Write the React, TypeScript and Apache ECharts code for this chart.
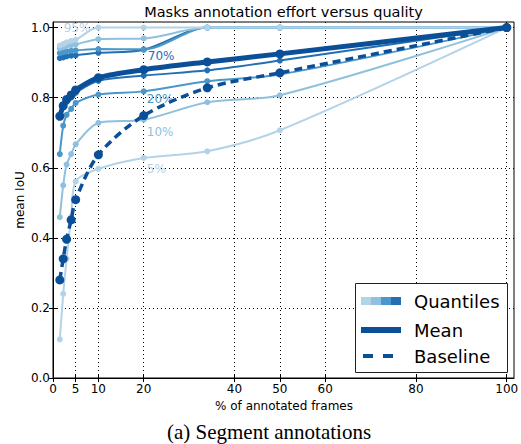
import React, { useEffect, useRef } from "react";
import * as echarts from "echarts";

// % of annotated frames at which each curve was measured
const FRACTIONS = [1.5, 2.25, 3, 4, 5, 10, 20, 34, 50, 100];

// quantile curves (mean IoU)
const Q05 = [0.11, 0.24, 0.34, 0.46, 0.561, 0.597, 0.628, 0.647, 0.707, 1.0];
const Q10 = [0.459, 0.55, 0.609, 0.639, 0.667, 0.728, 0.737, 0.787, 0.807, 1.0];
const Q20 = [0.639, 0.72, 0.751, 0.768, 0.785, 0.809, 0.818, 0.847, 0.866, 1.0];
const Q30 = [0.745, 0.772, 0.788, 0.8, 0.814, 0.848, 0.863, 0.878, 0.906, 1.0];
const Q70 = [0.913, 0.915, 0.918, 0.92, 0.921, 0.928, 0.937, 1.0, 1.0, 1.0];
const Q80 = [0.927, 0.93, 0.932, 0.934, 0.935, 0.939, 0.938, 1.0, 1.0, 1.0];
const Q90 = [0.941, 0.944, 0.947, 0.95, 0.952, 0.967, 0.969, 1.0, 1.0, 1.0];
const Q95 = [0.949, 0.953, 0.958, 0.962, 0.965, 1.0, 1.0, 1.0, 1.0, 1.0];

const MEAN = [0.747, 0.777, 0.795, 0.808, 0.822, 0.857, 0.88, 0.902, 0.925, 1.0];
const BASELINE = [0.28, 0.34, 0.396, 0.451, 0.509, 0.637, 0.749, 0.828, 0.871, 1.0];

const X_TICKS = [0, 5, 10, 20, 40, 50, 60, 80, 100];
const Y_TICKS = [0, 0.2, 0.4, 0.6, 0.8, 1.0];

const TITLE = "Masks annotation effort versus quality";
const X_NAME = "% of annotated frames";
const Y_NAME = "mean IoU";
const CAPTION = "(a) Segment annotations";
const LEGEND_NAMES = ["Quantiles", "Mean", "Baseline"];

const C1 = "#b3d3e9";
const C2 = "#8fc1de";
const C3 = "#4b97c9";
const C4 = "#2270b4";
const CMEAN = "#0b4f98";

const FONT = "DejaVu Sans";

const QUANTILES = [
  { name: "5%", data: Q05, color: C1, label: true, idx: 6, dx: 3, dy: 11 },
  { name: "10%", data: Q10, color: C2, label: true, idx: 6, dx: 3, dy: 12 },
  { name: "20%", data: Q20, color: C3, label: true, idx: 6, dx: 3, dy: 8 },
  { name: "30%", data: Q30, color: C4, label: false, idx: 6, dx: 0, dy: 0 },
  { name: "70%", data: Q70, color: C4, label: true, idx: 6, dx: 4, dy: 6 },
  { name: "80%", data: Q80, color: C3, label: false, idx: 6, dx: 0, dy: 0 },
  { name: "90%", data: Q90, color: C2, label: false, idx: 6, dx: 0, dy: 0 },
  { name: "95%", data: Q95, color: C1, label: true, idx: 4, dx: -12, dy: -12 },
];

function pairs(ys: number[]) {
  return FRACTIONS.map((x, i) => [x, ys[i]]);
}

function txt(text: string, x: number, y: number, size: number, opts: any = {}) {
  const align = opts.align || "left";
  return {
    type: "text",
    x,
    y,
    z: opts.z ?? 50,
    rotation: opts.rotation || 0,
    silent: true,
    style: {
      text,
      fill: opts.color || "#000",
      font: `${size}px "${opts.family || FONT}"`,
      align,
      textAlign: align,
      verticalAlign: "middle",
      textVerticalAlign: "middle",
    },
  };
}

export default function App() {
  const ref = useRef<HTMLDivElement>(null);

  useEffect(() => {
    if (!ref.current) return;
    const chart = echarts.init(ref.current, null, { renderer: "svg" });

    const quantSeries = QUANTILES.map((q) => ({
      type: "line",
      name: q.name,
      data: pairs(q.data),
      smooth: 0.3,
      symbol: "circle",
      symbolSize: 6,
      showSymbol: true,
      lineStyle: { color: q.color, width: 2 },
      itemStyle: { color: q.color },
      emphasis: { disabled: true },
      silent: true,
      z: 2,
    }));

    const option: any = {
      animation: false,
      backgroundColor: "#fff",
      grid: {
        left: 53,
        right: 7,
        top: 22,
        bottom: 66,
        show: true,
        borderColor: "#000",
        borderWidth: 1,
        backgroundColor: "transparent",
        containLabel: false,
        outerBoundsMode: "none",
      },
      xAxis: [
        {
          type: "value",
          min: 0,
          max: 101.6,
          position: "bottom",
          axisLine: { show: true, onZero: false, lineStyle: { color: "#000", width: 1 } },
          axisTick: { show: true, inside: true, length: 4, customValues: X_TICKS, lineStyle: { color: "#000" } },
          axisLabel: { customValues: X_TICKS, color: "#000", fontSize: 12, fontFamily: FONT, margin: 5 },
          splitLine: { show: true, lineStyle: { color: "#000", type: [1, 3], width: 1 } },
        },
        {
          type: "value",
          min: 0,
          max: 101.6,
          position: "top",
          axisLine: { show: false },
          axisTick: { show: true, inside: true, length: 4, customValues: X_TICKS, lineStyle: { color: "#000" } },
          axisLabel: { show: false },
          splitLine: { show: false },
        },
      ],
      yAxis: [
        {
          type: "value",
          min: 0,
          max: 1.016,
          position: "left",
          axisLine: { show: true, onZero: false, lineStyle: { color: "#000", width: 1 } },
          axisTick: { show: true, inside: true, length: 4, customValues: Y_TICKS, lineStyle: { color: "#000" } },
          axisLabel: {
            customValues: Y_TICKS,
            color: "#000",
            fontSize: 12,
            fontFamily: FONT,
            margin: 3,
            formatter: (v: number) => v.toFixed(1),
          },
          splitLine: { show: true, lineStyle: { color: "#000", type: [1, 3], width: 1 } },
        },
        {
          type: "value",
          min: 0,
          max: 1.016,
          position: "right",
          axisLine: { show: false },
          axisTick: { show: true, inside: true, length: 4, customValues: Y_TICKS, lineStyle: { color: "#000" } },
          axisLabel: { show: false },
          splitLine: { show: false },
        },
      ],
      series: [
        ...quantSeries,
        {
          type: "line",
          name: LEGEND_NAMES[1],
          data: pairs(MEAN),
          smooth: 0.3,
          symbol: "circle",
          symbolSize: 9,
          lineStyle: { color: CMEAN, width: 5 },
          itemStyle: { color: CMEAN },
          emphasis: { disabled: true },
          silent: true,
          z: 3,
        },
        {
          type: "line",
          name: LEGEND_NAMES[2],
          data: pairs(BASELINE),
          smooth: 0.3,
          symbol: "circle",
          symbolSize: 9,
          lineStyle: { color: CMEAN, width: 3.5, type: [8, 5] },
          itemStyle: { color: CMEAN },
          emphasis: { disabled: true },
          silent: true,
          z: 4,
        },
      ],
    };

    chart.setOption(option);

    const labelGraphics = QUANTILES.filter((q) => q.label).map((q) => {
      const p = chart.convertToPixel({ gridIndex: 0 }, [FRACTIONS[q.idx], q.data[q.idx]]) as number[];
      return txt(q.name, p[0] + q.dx, p[1] + q.dy, 12, { color: q.color, z: 1 });
    });

    const lx = 355;
    const ly = 283;
    const legend: any[] = [
      {
        type: "rect",
        z: 100,
        silent: true,
        shape: { x: lx + 0.5, y: ly + 0.5, width: 152, height: 89 },
        style: { fill: "#fff", stroke: "#222", lineWidth: 1 },
      },
      ...[C1, C2, C3, C4].map((c, i) => ({
        type: "rect",
        z: 101,
        silent: true,
        shape: { x: 361 + i * 10, y: 297, width: 10, height: 8 },
        style: { fill: c },
      })),
      {
        type: "line",
        z: 101,
        silent: true,
        shape: { x1: 361, y1: 330, x2: 401, y2: 330 },
        style: { stroke: CMEAN, lineWidth: 6 },
      },
      {
        type: "line",
        z: 101,
        silent: true,
        shape: { x1: 363, y1: 356, x2: 373, y2: 356 },
        style: { stroke: CMEAN, lineWidth: 4 },
      },
      {
        type: "line",
        z: 101,
        silent: true,
        shape: { x1: 383, y1: 356, x2: 393, y2: 356 },
        style: { stroke: CMEAN, lineWidth: 4 },
      },
      txt(LEGEND_NAMES[0], 414, 301, 18, { z: 102 }),
      txt(LEGEND_NAMES[1], 414, 330, 18, { z: 102 }),
      txt(LEGEND_NAMES[2], 414, 356, 18, { z: 102 }),
    ];

    const texts = [
      txt(TITLE, 283.5, 12, 14.5, { align: "center" }),
      txt(X_NAME, 284, 406, 12, { align: "center" }),
      txt(Y_NAME, 20, 200, 12, { align: "center", rotation: Math.PI / 2 }),
      txt(CAPTION, 269, 432, 21, { align: "center", family: "Liberation Serif" }),
    ];

    chart.setOption({ graphic: { elements: [...labelGraphics, ...legend, ...texts] } });

    return () => chart.dispose();
  }, []);

  return (
    <div
      ref={ref}
      style={{ position: "fixed", left: 0, top: 0, width: 521, height: 444, background: "#fff" }}
    />
  );
}
